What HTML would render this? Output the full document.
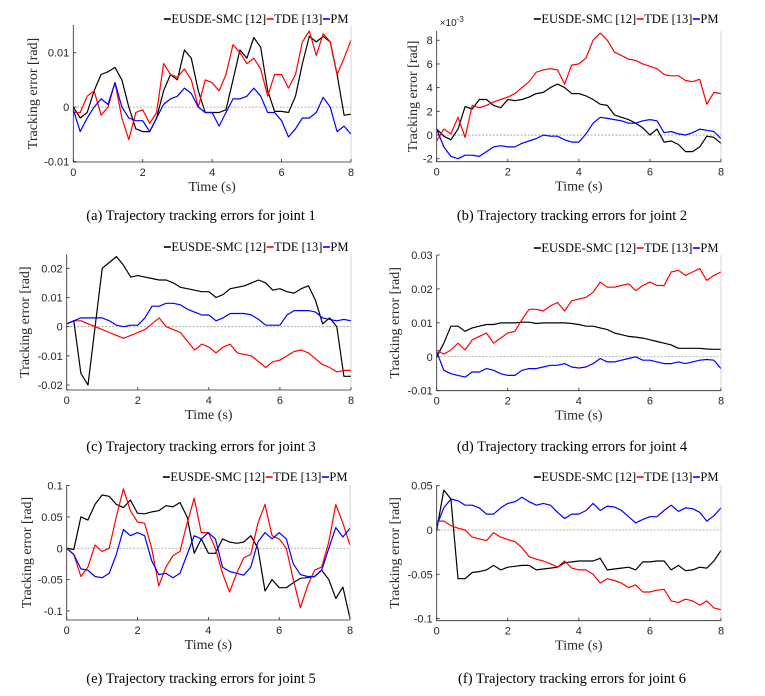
<!DOCTYPE html>
<html><head><meta charset="utf-8">
<style>
html,body{margin:0;padding:0;background:#fff;}
svg{display:block;}
</style></head>
<body>
<svg id="fig" width="765" height="696" viewBox="0 0 765 696" xmlns="http://www.w3.org/2000/svg"></svg>
<script>
const timeSteps = [0,0.2,0.4,0.6,0.8,1,1.2,1.4,1.6,1.8,2,2.2,2.4,2.6,2.8,3,3.2,3.4,3.6,3.8,4,4.2,4.4,4.6,4.8,5,5.2,5.4,5.6,5.8,6,6.2,6.4,6.6,6.8,7,7.2,7.4,7.6,7.8,8];
const seriesNames = ["EUSDE-SMC [12]","TDE [13]","PM"];
const seriesColors = ["#000000","#ff0000","#0000ff"];

const j1Eusde = [0,-0.002,-0.001,0.003,0.006,0.0065,0.0073,0.005,0,-0.004,-0.0045,-0.0045,-0.002,0.003,0.006,0.005,0.0105,0.009,0.003,-0.001,-0.001,-0.001,-0.0005,0.005,0.0105,0.009,0.0128,0.011,0.003,-0.0008,-0.0008,-0.001,0.002,0.008,0.013,0.012,0.013,0.012,0.006,-0.0015,-0.0013];
const j1Tde = [-0.001,-0.001,0.002,0.003,-0.0015,0,0.0045,-0.002,-0.006,-0.001,-0.0005,-0.003,-0.001,0.008,0.006,0.0055,0.007,0.005,0,0.005,0.0045,0.003,0.006,0.0115,0.01,0.008,0.009,0.007,0.002,0.006,0.006,0.0035,0.006,0.012,0.014,0.0095,0.0135,0.012,0.006,0.009,0.0123];
const j1Pm = [-0.0005,-0.0045,-0.002,0,0.0015,0.0005,0.0045,0,-0.002,-0.0025,-0.0025,-0.0045,-0.002,0.0005,0.0015,0.002,0.0035,0.0025,0,-0.001,-0.001,-0.0035,-0.001,0.0015,0.0015,0.002,0.0035,0.002,-0.001,-0.001,-0.0025,-0.0055,-0.004,-0.002,-0.002,-0.001,0.0018,0,-0.0045,-0.0035,-0.005];

const j2Eusde = [0.5,-0.1,-0.4,0.5,2.4,2.2,3,3,2.5,2.3,3,2.9,3,3.2,3.5,3.6,4,4.3,4,3.5,3.5,3.3,3,2.6,2.5,1.7,1.5,1.3,1,0.6,0,0.5,-0.6,-0.5,-0.8,-1.4,-1.4,-1,-0.1,-0.2,-0.7];
const j2Tde = [-0.5,0.5,0.1,1.5,-0.2,2.5,2.3,2.5,2.8,3,3.2,3.5,4,4.5,5.3,5.5,5.6,5.5,4.3,5.9,6,6.5,8,8.6,8,7,6.7,6.4,6.3,6,5.8,5.6,5.1,5,5,4.6,4.5,4.7,2.6,3.6,3.5];
const j2Pm = [0.5,-1,-1.8,-2,-1.7,-1.7,-1.8,-1.4,-1,-0.9,-1,-1,-0.7,-0.5,-0.3,0,-0.1,-0.1,-0.4,-0.6,-0.6,0.1,1,1.5,1.4,1.3,1.2,1,1,1.2,1.3,1.2,0.2,0.3,0.1,0,0.2,0.5,0.4,0.3,-0.3];

const j3Eusde = [0.001,0.002,-0.016,-0.02,0,0.02,0.022,0.024,0.021,0.017,0.0175,0.017,0.0165,0.016,0.016,0.015,0.0135,0.013,0.0125,0.012,0.012,0.01,0.011,0.013,0.0135,0.014,0.015,0.016,0.015,0.0125,0.013,0.012,0.0115,0.013,0.014,0.009,0.001,0.003,0,-0.017,-0.017];
const j3Tde = [0.001,0.002,0.002,0.001,0,-0.001,-0.002,-0.003,-0.004,-0.003,-0.002,-0.001,0.001,0.003,0,-0.001,-0.002,-0.005,-0.008,-0.006,-0.007,-0.009,-0.007,-0.006,-0.009,-0.0095,-0.01,-0.012,-0.014,-0.012,-0.0115,-0.01,-0.0085,-0.008,-0.009,-0.011,-0.013,-0.014,-0.0155,-0.015,-0.015];
const j3Pm = [0.001,0.002,0.003,0.003,0.003,0.003,0.002,0.0005,0,0.0005,0.0005,0.003,0.007,0.007,0.008,0.008,0.0075,0.006,0.005,0.004,0.004,0.002,0.003,0.0045,0.0045,0.0045,0.004,0.0025,0.0005,0.0005,0.0005,0.004,0.0055,0.0055,0.0055,0.005,0.003,0.0025,0.002,0.0025,0.002];

const j4Eusde = [0,0.004,0.009,0.009,0.0075,0.0085,0.009,0.0095,0.0095,0.01,0.01,0.01,0.0102,0.0102,0.0098,0.01,0.01,0.01,0.01,0.0098,0.0095,0.009,0.009,0.0085,0.008,0.007,0.0065,0.006,0.0058,0.0055,0.005,0.0045,0.004,0.0035,0.0025,0.0025,0.0025,0.0025,0.0023,0.0022,0.0022];
const j4Tde = [0.002,0.0008,0.002,0.004,0.002,0.005,0.006,0.007,0.004,0.0055,0.007,0.0075,0.011,0.014,0.014,0.0135,0.015,0.016,0.0135,0.0165,0.017,0.0175,0.019,0.022,0.0205,0.0205,0.021,0.0215,0.0195,0.021,0.022,0.021,0.021,0.025,0.0255,0.024,0.025,0.026,0.0225,0.024,0.025];
const j4Pm = [0.0015,-0.004,-0.005,-0.0055,-0.006,-0.0045,-0.0045,-0.0035,-0.004,-0.005,-0.0055,-0.0055,-0.004,-0.0035,-0.0035,-0.003,-0.0025,-0.0025,-0.002,-0.003,-0.0033,-0.003,-0.002,-0.0005,-0.0015,-0.0015,-0.001,-0.0005,0,-0.001,-0.001,-0.0015,-0.002,-0.002,-0.0015,-0.002,-0.0015,-0.001,-0.0008,-0.001,-0.0035];

const j5Eusde = [0,-0.002,0.05,0.045,0.07,0.085,0.083,0.07,0.065,0.077,0.056,0.055,0.058,0.06,0.068,0.066,0.073,0.05,-0.008,0.015,-0.008,-0.008,0.015,0.01,0.008,0.01,0.02,0,-0.068,-0.05,-0.063,-0.063,-0.055,-0.048,-0.047,-0.045,-0.035,-0.05,-0.08,-0.062,-0.112];
const j5Tde = [0,-0.01,-0.045,-0.03,0.005,-0.005,0,0.05,0.095,0.06,0.042,0.04,0,-0.06,-0.03,-0.012,-0.005,0.04,0.08,0.025,0.025,0,-0.04,-0.07,-0.04,-0.015,-0.01,0.04,0.07,0.02,0.015,0,-0.05,-0.095,-0.06,-0.035,-0.03,0.01,0.07,0.04,0.005];
const j5Pm = [0,-0.01,-0.033,-0.035,-0.045,-0.047,-0.04,-0.01,0.03,0.02,0.025,0.02,-0.02,-0.042,-0.04,-0.047,-0.04,-0.01,0.02,0.015,0.025,0.015,-0.03,-0.037,-0.04,-0.043,-0.03,0.01,0.025,0.015,0.025,0.015,-0.025,-0.042,-0.045,-0.045,-0.035,0,0.033,0.018,0.032];

const j6Eusde = [0,0.045,0.035,-0.055,-0.055,-0.048,-0.047,-0.045,-0.04,-0.045,-0.042,-0.041,-0.04,-0.04,-0.045,-0.044,-0.043,-0.042,-0.037,-0.036,-0.035,-0.035,-0.035,-0.032,-0.045,-0.044,-0.043,-0.042,-0.045,-0.036,-0.036,-0.035,-0.035,-0.045,-0.04,-0.046,-0.045,-0.042,-0.043,-0.035,-0.023];
const j6Tde = [0.01,0.01,0.005,0.002,0,-0.008,-0.01,-0.012,-0.003,-0.008,-0.011,-0.013,-0.02,-0.03,-0.033,-0.035,-0.038,-0.042,-0.035,-0.043,-0.045,-0.045,-0.05,-0.06,-0.055,-0.057,-0.06,-0.065,-0.062,-0.07,-0.07,-0.068,-0.067,-0.08,-0.082,-0.078,-0.08,-0.085,-0.08,-0.088,-0.09];
const j6Pm = [0.005,0.025,0.035,0.033,0.028,0.028,0.025,0.018,0.018,0.025,0.03,0.032,0.037,0.032,0.028,0.03,0.028,0.02,0.013,0.018,0.018,0.022,0.03,0.022,0.027,0.026,0.022,0.015,0.008,0.012,0.015,0.015,0.022,0.028,0.021,0.025,0.024,0.02,0.01,0.016,0.025];

const xTicks = [0,2,4,6,8];
const yTicksA = [-0.01,0,0.01]; const yLabelsA = ["-0.01","0","0.01"];
const yTicksB = [-2,0,2,4,6,8]; const yLabelsB = ["-2","0","2","4","6","8"];
const yTicksC = [-0.02,-0.01,0,0.01,0.02]; const yLabelsC = ["-0.02","-0.01","0","0.01","0.02"];
const yTicksD = [-0.01,0,0.01,0.02,0.03]; const yLabelsD = ["-0.01","0","0.01","0.02","0.03"];
const yTicksE = [-0.1,-0.05,0,0.05,0.1]; const yLabelsE = ["-0.1","-0.05","0","0.05","0.1"];
const yTicksF = [-0.1,-0.05,0,0.05]; const yLabelsF = ["-0.1","-0.05","0","0.05"];

const panels = [
 {id:"a",x0:73.3,x1:351,top:25,bot:162,vmin:-0.0101,vmax:0.0151,ticks:yTicksA,labels:yLabelsA,series:[j1Eusde,j1Tde,j1Pm],ylx:33,leg:19,cap:"(a)  Trajectory tracking errors for joint 1",capx:201,capy:220},
 {id:"b",x0:436.7,x1:721,top:31,bot:161.7,vmin:-2.25,vmax:8.78,ticks:yTicksB,labels:yLabelsB,series:[j2Eusde,j2Tde,j2Pm],ylx:413,leg:19,cap:"(b)  Trajectory tracking errors for joint 2",capx:572,capy:220,exp:true},
 {id:"c",x0:66.7,x1:351,top:254.3,bot:390,vmin:-0.0217,vmax:0.0248,ticks:yTicksC,labels:yLabelsC,series:[j3Eusde,j3Tde,j3Pm],ylx:25,leg:247,cap:"(c)  Trajectory tracking errors for joint 3",capx:201,capy:451},
 {id:"d",x0:436.7,x1:721,top:255,bot:390.7,vmin:-0.01,vmax:0.03,ticks:yTicksD,labels:yLabelsD,series:[j4Eusde,j4Tde,j4Pm],ylx:395,leg:248,cap:"(d)  Trajectory tracking errors for joint 4",capx:572,capy:451},
 {id:"e",x0:66.7,x1:350,top:485,bot:620,vmin:-0.1145,vmax:0.101,ticks:yTicksE,labels:yLabelsE,series:[j5Eusde,j5Tde,j5Pm],ylx:27,leg:477,cap:"(e)  Trajectory tracking errors for joint 5",capx:201,capy:683},
 {id:"f",x0:436.7,x1:721,top:485,bot:620.7,vmin:-0.1024,vmax:0.0508,ticks:yTicksF,labels:yLabelsF,series:[j6Eusde,j6Tde,j6Pm],ylx:395,leg:477,cap:"(f)  Trajectory tracking errors for joint 6",capx:572,capy:683}
];

const NS="http://www.w3.org/2000/svg";
const svg=document.getElementById('fig');
function mk(tag,attrs,parent){const e=document.createElementNS(NS,tag);for(const k in attrs)e.setAttribute(k,attrs[k]);(parent||svg).appendChild(e);return e;}
const SERIF='"Liberation Serif", serif', SANS='"Liberation Sans", sans-serif';

panels.forEach(p=>{
  const g=mk('g',{});
  
  
  const xs=t=>p.x0+(t/8)*(p.x1-p.x0);
  const ys=v=>p.bot-(v-p.vmin)/(p.vmax-p.vmin)*(p.bot-p.top);
  const z=mk('line',{x1:p.x0,x2:p.x1,y1:ys(0),y2:ys(0),stroke:'#999',"stroke-width":0.8,"stroke-dasharray":'2,1.5'},g);
  
  
  p.series.forEach((vals,si)=>{
    const d=vals.map((v,i)=>(i?'L':'M')+xs(timeSteps[i]).toFixed(1)+','+ys(v).toFixed(1)).join(' ');
    const path=mk('path',{d:d,fill:'none',stroke:seriesColors[si],"stroke-width":1.2,"stroke-linejoin":'round'},g);
    
    
  });
  const ax=mk('path',{d:`M${p.x0},${p.top} L${p.x0},${p.bot} L${p.x1},${p.bot}`,fill:'none',stroke:'#262626',"stroke-width":0.8},g);
  
  
  const rx=mk('line',{x1:p.x1,x2:p.x1,y1:p.top,y2:p.bot,stroke:'#bbb',"stroke-width":0.6},g);
  
  
  xTicks.forEach(t=>{
    mk('line',{x1:xs(t),x2:xs(t),y1:p.bot,y2:p.bot-3,stroke:'#262626',"stroke-width":0.8},g);
    const tx=mk('text',{x:xs(t),y:p.bot+14,"text-anchor":'middle',"font-family":SANS,"font-size":11,fill:'#262626'},g);
    tx.textContent=t;
    
    
  });
  p.ticks.forEach((v,i)=>{
    mk('line',{x1:p.x0,x2:p.x0+3,y1:ys(v),y2:ys(v),stroke:'#262626',"stroke-width":0.8},g);
    const tx=mk('text',{x:p.x0-4,y:ys(v)+4,"text-anchor":'end',"font-family":SANS,"font-size":11,fill:'#262626'},g);
    tx.textContent=p.labels[i];
    
    
  });
  if(p.exp){
    const e=mk('text',{x:p.x0+3,y:p.top-5,"font-family":SANS,"font-size":10,fill:'#262626'},g);
    e.textContent='×10';
    const s=mk('tspan',{dy:-4,"font-size":8},e); s.textContent='-3';
    
    
  }
  const xl=mk('text',{x:(p.x0+p.x1)/2,y:p.bot+29,"text-anchor":'middle',"font-family":SERIF,"font-size":14,fill:'#262626'},g);
  xl.textContent='Time (s)';
  
  
  const cy=(p.top+p.bot)/2;
  const yl=mk('text',{x:p.ylx,y:cy,"text-anchor":'middle',"font-family":SERIF,"font-size":14,fill:'#262626',transform:`rotate(-90 ${p.ylx} ${cy}) translate(0 4)`},g);
  yl.textContent='Tracking error [rad]';
  
  
  const lg=mk('g',{},g);
  
  
  let cx=0;
  const by=p.leg+4;
  seriesNames.forEach((n,si)=>{
    const ln=mk('line',{x1:cx,x2:cx+7,y1:by-4,y2:by-4,stroke:seriesColors[si],"stroke-width":1.6},lg);
    
    
    cx+=7.5;
    const t=mk('text',{x:cx,y:by,"font-family":SERIF,"font-size":12.5,fill:'#000'},lg);
    t.textContent=n;
    
    
    cx+=t.getComputedTextLength()+0.5;
  });
  lg.setAttribute('transform',`translate(${p.x1-2-cx},0)`);
  const cap=mk('text',{x:p.capx,y:p.capy,"text-anchor":'middle',"font-family":SERIF,"font-size":14.5,fill:'#000'},g);
  cap.setAttribute('xml:space','preserve');
  cap.textContent=p.cap;
  
  
});
</script>
</body></html>
